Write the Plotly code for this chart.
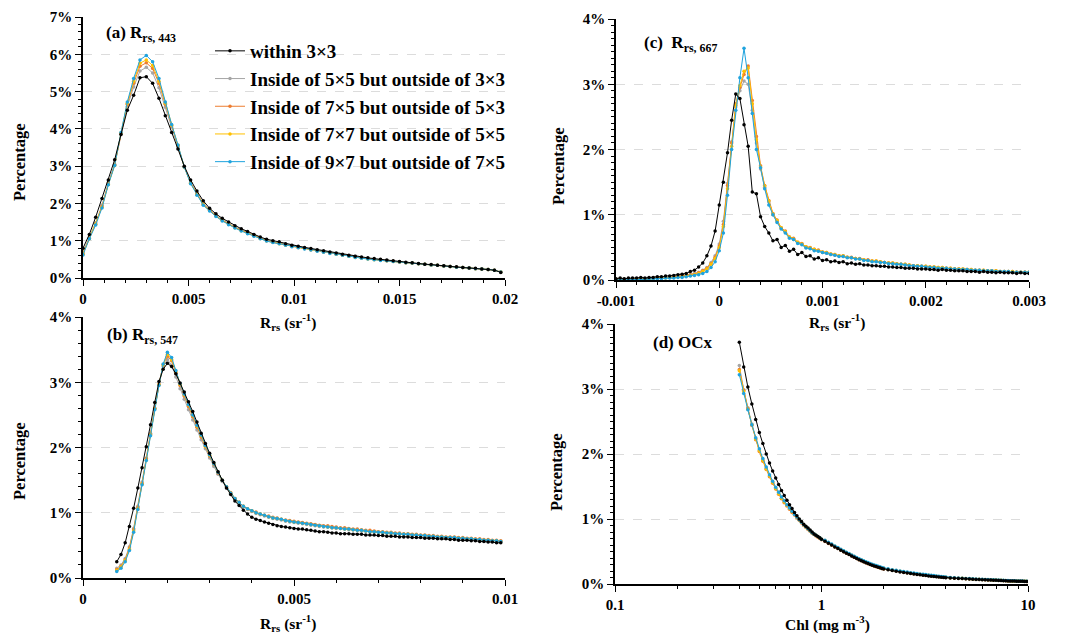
import plotly.graph_objects as go

W, H = 1091, 636
FONT = "Liberation Serif"

SERIES_NAMES = ["within 3×3",
                "Inside of 5×5 but outside of 3×3",
                "Inside of 7×5 but outside of 5×3",
                "Inside of 7×7 but outside of 5×5",
                "Inside of 9×7 but outside of 7×5"]
COLORS = ["#000000", "#A5A5A5", "#ED7D31", "#FFC000", "#1FA3DE"]

# ---------------- (a) Rrs 443 : bins 0 .. 0.0198 step 0.0003 ----------------
X_A = [round(0.0003 * i, 4) for i in range(67)]
A_BLACK = [0.80, 1.17, 1.63, 2.13, 2.63, 3.17, 3.85, 4.50, 4.90, 5.37,
           5.40, 5.22, 4.82, 4.35, 3.90, 3.46, 3.00, 2.63, 2.33, 2.07,
           1.87, 1.72, 1.60, 1.50, 1.40, 1.32, 1.25, 1.17, 1.10, 1.04,
           1.00, 0.97, 0.92, 0.88, 0.85, 0.82, 0.79, 0.76, 0.73, 0.70,
           0.67, 0.64, 0.61, 0.58, 0.56, 0.54, 0.52, 0.50, 0.48, 0.46,
           0.44, 0.42, 0.41, 0.39, 0.37, 0.36, 0.34, 0.33, 0.31, 0.30,
           0.28, 0.27, 0.26, 0.24, 0.23, 0.21, 0.15]
A_GRAY = [0.70, 1.08, 1.48, 1.95, 2.55, 3.05, 3.86, 4.60, 5.12, 5.55,
          5.65, 5.50, 5.10, 4.58, 4.05, 3.52, 2.99, 2.56, 2.27, 2.00,
          1.83, 1.68, 1.56, 1.46, 1.37, 1.29, 1.22, 1.14, 1.07, 1.01,
          0.97, 0.94, 0.90, 0.86, 0.83, 0.80, 0.77, 0.74, 0.71, 0.68,
          0.65, 0.62, 0.59, 0.56, 0.54, 0.52, 0.50, 0.48, 0.47, 0.45,
          0.43, 0.41, 0.40, 0.38, 0.37, 0.35, 0.34, 0.32, 0.31, 0.29,
          0.28, 0.27, 0.25, 0.24, 0.23, 0.21, 0.16]
A_ORANGE = [0.66, 1.06, 1.45, 1.92, 2.52, 3.03, 3.88, 4.66, 5.22, 5.68,
            5.77, 5.62, 5.22, 4.66, 4.08, 3.55, 2.98, 2.55, 2.25, 1.98,
            1.82, 1.67, 1.55, 1.45, 1.36, 1.28, 1.21, 1.13, 1.06, 1.00,
            0.96, 0.93, 0.89, 0.85, 0.82, 0.79, 0.76, 0.73, 0.70, 0.67,
            0.64, 0.61, 0.58, 0.56, 0.54, 0.52, 0.50, 0.48, 0.46, 0.45,
            0.43, 0.41, 0.40, 0.38, 0.37, 0.35, 0.34, 0.32, 0.31, 0.29,
            0.28, 0.27, 0.25, 0.24, 0.23, 0.21, 0.16]
A_YELLOW = [0.64, 1.05, 1.44, 1.90, 2.51, 3.02, 3.89, 4.69, 5.28, 5.76,
            5.85, 5.70, 5.28, 4.69, 4.10, 3.56, 2.98, 2.54, 2.24, 1.97,
            1.81, 1.66, 1.54, 1.44, 1.35, 1.27, 1.20, 1.13, 1.06, 1.00,
            0.96, 0.92, 0.88, 0.85, 0.82, 0.79, 0.76, 0.73, 0.70, 0.67,
            0.64, 0.61, 0.58, 0.55, 0.53, 0.51, 0.49, 0.48, 0.46, 0.44,
            0.43, 0.41, 0.40, 0.38, 0.37, 0.35, 0.34, 0.32, 0.31, 0.29,
            0.28, 0.27, 0.25, 0.24, 0.23, 0.21, 0.16]
A_BLUE = [0.62, 1.05, 1.42, 1.88, 2.50, 3.02, 3.90, 4.72, 5.35, 5.85,
          5.97, 5.80, 5.35, 4.72, 4.12, 3.57, 2.98, 2.53, 2.22, 1.95,
          1.80, 1.65, 1.53, 1.43, 1.34, 1.26, 1.19, 1.12, 1.05, 0.99,
          0.95, 0.92, 0.88, 0.84, 0.81, 0.78, 0.75, 0.72, 0.69, 0.66,
          0.64, 0.61, 0.58, 0.55, 0.53, 0.51, 0.49, 0.47, 0.46, 0.44,
          0.43, 0.41, 0.40, 0.38, 0.37, 0.35, 0.34, 0.32, 0.31, 0.29,
          0.28, 0.27, 0.25, 0.24, 0.23, 0.21, 0.16]

# ---------------- (b) Rrs 547 : bins 0.0008 .. 0.0099 step 0.0001 ----------------
X_B = [round(0.0008 + 0.0001 * i, 4) for i in range(92)]
B_BLACK = [0.25, 0.36, 0.54, 0.79, 1.07, 1.38, 1.69, 2.01, 2.35, 2.69,
           3.01, 3.20, 3.29, 3.24, 3.13, 2.99, 2.85, 2.70, 2.55, 2.39,
           2.22, 2.06, 1.91, 1.77, 1.63, 1.50, 1.38, 1.28, 1.18, 1.11,
           1.04, 0.98, 0.93, 0.90, 0.88, 0.86, 0.84, 0.82, 0.80, 0.79,
           0.78, 0.77, 0.76, 0.75, 0.75, 0.74, 0.73, 0.72, 0.71, 0.71,
           0.70, 0.69, 0.69, 0.68, 0.68, 0.68, 0.67, 0.67, 0.67, 0.66,
           0.66, 0.66, 0.65, 0.65, 0.64, 0.64, 0.64, 0.63, 0.63, 0.63,
           0.62, 0.62, 0.62, 0.61, 0.61, 0.61, 0.60, 0.60, 0.60, 0.59,
           0.59, 0.58, 0.58, 0.58, 0.57, 0.57, 0.56, 0.56, 0.55, 0.55,
           0.54, 0.54]
B_GRAY = [0.15, 0.20, 0.30, 0.48, 0.76, 1.10, 1.47, 1.84, 2.22, 2.60,
          2.96, 3.24, 3.35, 3.26, 3.08, 2.90, 2.74, 2.58, 2.42, 2.27,
          2.12, 1.98, 1.84, 1.71, 1.59, 1.48, 1.38, 1.29, 1.21, 1.15,
          1.09, 1.05, 1.02, 0.99, 0.97, 0.95, 0.93, 0.91, 0.90, 0.89,
          0.87, 0.86, 0.85, 0.84, 0.83, 0.82, 0.81, 0.80, 0.79, 0.78,
          0.78, 0.77, 0.76, 0.76, 0.75, 0.74, 0.74, 0.73, 0.72, 0.72,
          0.71, 0.71, 0.70, 0.69, 0.69, 0.68, 0.68, 0.67, 0.67, 0.66,
          0.66, 0.65, 0.65, 0.64, 0.64, 0.63, 0.63, 0.62, 0.62, 0.62,
          0.61, 0.61, 0.60, 0.60, 0.59, 0.59, 0.58, 0.58, 0.57, 0.57,
          0.57, 0.56]
B_ORANGE = [0.13, 0.18, 0.28, 0.46, 0.74, 1.08, 1.45, 1.83, 2.20, 2.60,
            2.97, 3.27, 3.40, 3.33, 3.14, 2.95, 2.79, 2.63, 2.47, 2.31,
            2.16, 2.01, 1.87, 1.74, 1.61, 1.50, 1.40, 1.31, 1.22, 1.16,
            1.10, 1.06, 1.03, 1.01, 0.98, 0.96, 0.95, 0.93, 0.92, 0.90,
            0.89, 0.88, 0.87, 0.86, 0.85, 0.84, 0.83, 0.82, 0.81, 0.80,
            0.80, 0.79, 0.78, 0.77, 0.77, 0.76, 0.75, 0.75, 0.74, 0.73,
            0.73, 0.72, 0.71, 0.71, 0.70, 0.70, 0.69, 0.69, 0.68, 0.68,
            0.67, 0.67, 0.66, 0.66, 0.65, 0.65, 0.64, 0.64, 0.63, 0.63,
            0.63, 0.62, 0.62, 0.61, 0.61, 0.60, 0.60, 0.59, 0.59, 0.58,
            0.58, 0.57]
B_YELLOW = [0.12, 0.17, 0.27, 0.44, 0.72, 1.06, 1.44, 1.81, 2.19, 2.59,
            2.96, 3.27, 3.43, 3.35, 3.16, 2.97, 2.81, 2.65, 2.49, 2.33,
            2.18, 2.02, 1.88, 1.75, 1.62, 1.50, 1.40, 1.30, 1.22, 1.16,
            1.10, 1.06, 1.03, 1.00, 0.98, 0.96, 0.94, 0.92, 0.91, 0.90,
            0.88, 0.87, 0.86, 0.85, 0.84, 0.83, 0.82, 0.81, 0.80, 0.79,
            0.78, 0.77, 0.77, 0.76, 0.75, 0.75, 0.74, 0.73, 0.73, 0.72,
            0.71, 0.71, 0.70, 0.70, 0.69, 0.69, 0.68, 0.68, 0.67, 0.67,
            0.66, 0.66, 0.65, 0.65, 0.64, 0.64, 0.63, 0.63, 0.62, 0.62,
            0.62, 0.61, 0.61, 0.60, 0.60, 0.59, 0.59, 0.58, 0.58, 0.57,
            0.57, 0.56]
B_BLUE = [0.10, 0.15, 0.25, 0.42, 0.70, 1.05, 1.43, 1.80, 2.18, 2.58,
          2.95, 3.28, 3.46, 3.38, 3.18, 2.98, 2.82, 2.66, 2.50, 2.34,
          2.19, 2.03, 1.89, 1.75, 1.62, 1.50, 1.40, 1.30, 1.22, 1.16,
          1.10, 1.06, 1.03, 1.00, 0.98, 0.96, 0.94, 0.92, 0.91, 0.90,
          0.88, 0.87, 0.86, 0.85, 0.84, 0.83, 0.82, 0.81, 0.80, 0.79,
          0.78, 0.77, 0.77, 0.76, 0.75, 0.75, 0.74, 0.73, 0.73, 0.72,
          0.71, 0.71, 0.70, 0.70, 0.69, 0.69, 0.68, 0.68, 0.67, 0.67,
          0.66, 0.66, 0.65, 0.65, 0.64, 0.64, 0.63, 0.63, 0.62, 0.62,
          0.62, 0.61, 0.61, 0.60, 0.60, 0.59, 0.59, 0.58, 0.58, 0.57,
          0.57, 0.56]

# ---------------- (c) Rrs 667 : bins -0.001 .. 0.003 step 0.00004 ----------------
X_C = [round(-0.001 + 0.00004 * i, 5) for i in range(101)]
C_BLACK = [0.02, 0.03, 0.02, 0.03, 0.03, 0.03, 0.04, 0.03, 0.04, 0.04,
           0.05, 0.05, 0.06, 0.06, 0.07, 0.08, 0.09, 0.10, 0.13, 0.15,
           0.20, 0.26, 0.37, 0.52, 0.75,
           1.15, 1.50, 1.95, 2.45, 2.85, 2.78, 2.38, 2.05, 1.35, 1.32,
           0.97, 0.82, 0.72, 0.60, 0.62, 0.50, 0.53, 0.44, 0.47, 0.39,
           0.42, 0.36, 0.37, 0.32, 0.34, 0.30,
           0.31, 0.28, 0.29, 0.27, 0.28, 0.25, 0.26, 0.24, 0.25, 0.23,
           0.23, 0.22, 0.22, 0.21, 0.21, 0.20, 0.20, 0.19, 0.19, 0.18,
           0.18, 0.18, 0.17, 0.17, 0.17, 0.16, 0.16, 0.15, 0.16, 0.15,
           0.15, 0.14, 0.14, 0.14, 0.13, 0.13, 0.13, 0.12, 0.13, 0.12,
           0.12, 0.11, 0.12, 0.11, 0.11, 0.11, 0.10, 0.11, 0.10, 0.10]
C_GRAY = [0.01, 0.01, 0.01, 0.01, 0.01, 0.02, 0.02, 0.02, 0.02, 0.03,
          0.03, 0.03, 0.04, 0.04, 0.05, 0.05, 0.06, 0.07, 0.08, 0.10,
          0.12, 0.15, 0.19, 0.27, 0.37,
          0.55, 0.90, 1.48, 2.12, 2.65, 2.90, 3.05, 3.00, 2.60, 2.10,
          1.70, 1.42, 1.20, 1.00, 0.90, 0.79, 0.73, 0.65, 0.62, 0.57,
          0.55, 0.50, 0.49, 0.46, 0.45, 0.42,
          0.41, 0.39, 0.38, 0.37, 0.36, 0.35, 0.34, 0.33, 0.32, 0.31,
          0.30, 0.29, 0.28, 0.27, 0.27, 0.26, 0.25, 0.24, 0.24, 0.23,
          0.22, 0.22, 0.21, 0.21, 0.20, 0.20, 0.19, 0.19, 0.18, 0.18,
          0.17, 0.17, 0.17, 0.16, 0.16, 0.15, 0.15, 0.15, 0.14, 0.14,
          0.14, 0.13, 0.13, 0.13, 0.13, 0.12, 0.12, 0.12, 0.12, 0.11]
C_ORANGE = [0.01, 0.01, 0.01, 0.01, 0.01, 0.02, 0.02, 0.02, 0.02, 0.03,
            0.03, 0.03, 0.04, 0.04, 0.05, 0.05, 0.06, 0.07, 0.08, 0.09,
            0.11, 0.14, 0.18, 0.25, 0.35,
            0.52, 0.85, 1.45, 2.10, 2.70, 2.95, 3.15, 3.28, 2.75, 2.20,
            1.75, 1.45, 1.22, 1.02, 0.92, 0.80, 0.75, 0.66, 0.64, 0.58,
            0.56, 0.51, 0.50, 0.47, 0.46, 0.43,
            0.42, 0.40, 0.39, 0.37, 0.37, 0.35, 0.35, 0.33, 0.33, 0.31,
            0.31, 0.29, 0.29, 0.28, 0.27, 0.26, 0.26, 0.25, 0.24, 0.24,
            0.23, 0.22, 0.22, 0.21, 0.21, 0.20, 0.20, 0.19, 0.19, 0.18,
            0.18, 0.17, 0.17, 0.17, 0.16, 0.16, 0.15, 0.15, 0.15, 0.14,
            0.14, 0.14, 0.13, 0.13, 0.13, 0.13, 0.12, 0.12, 0.12, 0.12]
C_YELLOW = [0.01, 0.01, 0.01, 0.01, 0.01, 0.01, 0.02, 0.02, 0.02, 0.02,
            0.03, 0.03, 0.03, 0.04, 0.04, 0.05, 0.05, 0.06, 0.07, 0.08,
            0.10, 0.13, 0.17, 0.24, 0.33,
            0.50, 0.82, 1.40, 2.05, 2.68, 2.98, 3.20, 3.25, 2.70, 2.15,
            1.73, 1.44, 1.21, 1.01, 0.91, 0.80, 0.74, 0.66, 0.63, 0.58,
            0.55, 0.51, 0.49, 0.47, 0.45, 0.43,
            0.42, 0.40, 0.39, 0.37, 0.37, 0.35, 0.34, 0.33, 0.32, 0.31,
            0.30, 0.29, 0.29, 0.28, 0.27, 0.26, 0.26, 0.25, 0.24, 0.24,
            0.23, 0.22, 0.22, 0.21, 0.21, 0.20, 0.20, 0.19, 0.19, 0.18,
            0.18, 0.17, 0.17, 0.17, 0.16, 0.16, 0.15, 0.15, 0.15, 0.14,
            0.14, 0.14, 0.13, 0.13, 0.13, 0.13, 0.12, 0.12, 0.12, 0.12]
C_BLUE = [0.00, 0.00, 0.01, 0.01, 0.01, 0.01, 0.01, 0.01, 0.02, 0.02,
          0.02, 0.02, 0.03, 0.03, 0.03, 0.04, 0.04, 0.05, 0.06, 0.07,
          0.08, 0.10, 0.13, 0.19, 0.28,
          0.45, 0.72, 1.30, 2.00, 2.60, 3.10, 3.55, 3.10, 2.55, 2.00,
          1.72, 1.40, 1.15, 1.00, 0.88, 0.78, 0.72, 0.64, 0.62, 0.56,
          0.54, 0.49, 0.48, 0.45, 0.44, 0.42,
          0.41, 0.39, 0.38, 0.36, 0.36, 0.34, 0.34, 0.32, 0.32, 0.30,
          0.30, 0.28, 0.28, 0.27, 0.27, 0.25, 0.25, 0.24, 0.24, 0.23,
          0.22, 0.22, 0.21, 0.21, 0.20, 0.19, 0.19, 0.18, 0.18, 0.18,
          0.17, 0.17, 0.16, 0.16, 0.16, 0.15, 0.15, 0.15, 0.14, 0.14,
          0.14, 0.13, 0.13, 0.13, 0.13, 0.12, 0.12, 0.12, 0.12, 0.12]

# ---------------- (d) OCx chlorophyll (mg m-3) ----------------
X_D = [0.40, 0.42, 0.44, 0.46, 0.48, 0.50, 0.52, 0.54, 0.56, 0.58,
       0.60, 0.62, 0.64, 0.66, 0.68, 0.70, 0.72, 0.74, 0.76, 0.78,
       0.80, 0.82, 0.84, 0.86, 0.88, 0.90, 0.92, 0.94, 0.96, 0.98, 1.00,
       1.04, 1.08, 1.12, 1.16, 1.20, 1.24, 1.28, 1.32, 1.36, 1.40,
       1.44, 1.48, 1.52, 1.56, 1.60, 1.64, 1.68, 1.72, 1.76, 1.80,
       1.84, 1.88, 1.92, 1.96, 2.00,
       2.1, 2.2, 2.3, 2.4, 2.5, 2.6, 2.7, 2.8, 2.9, 3.0,
       3.1, 3.2, 3.3, 3.4, 3.5, 3.6, 3.7, 3.8, 3.9, 4.0,
       4.2, 4.4, 4.6, 4.8, 5.0, 5.2, 5.4, 5.6, 5.8, 6.0,
       6.2, 6.4, 6.6, 6.8, 7.0, 7.2, 7.4, 7.6, 7.8, 8.0,
       8.2, 8.4, 8.6, 8.8, 9.0, 9.2, 9.4, 9.6, 9.8, 10.0]
D_BLACK = [3.72, 3.34, 3.03, 2.77, 2.53, 2.33, 2.16, 2.00, 1.86, 1.74,
           1.63, 1.53, 1.44, 1.36, 1.29, 1.22, 1.16, 1.10, 1.05, 1.00,
           0.96, 0.92, 0.89, 0.86, 0.83, 0.80, 0.77, 0.75, 0.73, 0.71, 0.69,
           0.658, 0.628, 0.599, 0.571, 0.547, 0.521, 0.496, 0.474, 0.454, 0.431,
           0.412, 0.393, 0.375, 0.359, 0.342, 0.328, 0.314, 0.301, 0.288, 0.278,
           0.268, 0.258, 0.249, 0.240, 0.232,
           0.218, 0.206, 0.196, 0.186, 0.177, 0.168, 0.160, 0.153, 0.147, 0.141,
           0.135, 0.13, 0.125, 0.12, 0.115, 0.11, 0.107, 0.104, 0.10, 0.098,
           0.094, 0.090, 0.086, 0.083, 0.080, 0.077, 0.074, 0.071, 0.068, 0.066,
           0.064, 0.062, 0.060, 0.058, 0.056, 0.054, 0.053, 0.051, 0.050, 0.048,
           0.047, 0.046, 0.045, 0.044, 0.043, 0.042, 0.041, 0.040, 0.039, 0.038]
D_GRAY = [3.36, 2.99, 2.71, 2.46, 2.24, 2.06, 1.91, 1.78, 1.66, 1.56,
          1.47, 1.39, 1.32, 1.26, 1.21, 1.16, 1.11, 1.07, 1.03, 0.99,
          0.95, 0.91, 0.88, 0.85, 0.82, 0.79, 0.77, 0.75, 0.73, 0.71, 0.69,
          0.663, 0.633, 0.604, 0.576, 0.552, 0.526, 0.501, 0.479, 0.459, 0.436,
          0.417, 0.398, 0.380, 0.364, 0.347, 0.333, 0.319, 0.306, 0.293, 0.283,
          0.273, 0.263, 0.254, 0.245, 0.237,
          0.223, 0.211, 0.201, 0.191, 0.182, 0.173, 0.165, 0.158, 0.152, 0.146,
          0.14, 0.135, 0.13, 0.125, 0.12, 0.115, 0.11, 0.107, 0.104, 0.10,
          0.096, 0.092, 0.088, 0.085, 0.082, 0.079, 0.076, 0.073, 0.070, 0.068,
          0.066, 0.064, 0.062, 0.060, 0.058, 0.056, 0.054, 0.052, 0.051, 0.049,
          0.048, 0.047, 0.046, 0.045, 0.044, 0.043, 0.042, 0.041, 0.040, 0.039]
D_ORANGE = [3.30, 2.98, 2.70, 2.44, 2.22, 2.04, 1.89, 1.76, 1.65, 1.55,
            1.46, 1.38, 1.31, 1.25, 1.20, 1.15, 1.10, 1.06, 1.02, 0.98,
            0.94, 0.90, 0.87, 0.84, 0.81, 0.78, 0.76, 0.74, 0.72, 0.70, 0.68,
            0.655, 0.625, 0.597, 0.569, 0.545, 0.520, 0.495, 0.473, 0.453, 0.430,
            0.411, 0.392, 0.374, 0.358, 0.341, 0.327, 0.313, 0.300, 0.287, 0.277,
            0.267, 0.257, 0.248, 0.239, 0.231,
            0.223, 0.211, 0.201, 0.191, 0.182, 0.173, 0.165, 0.158, 0.152, 0.146,
            0.14, 0.135, 0.13, 0.125, 0.12, 0.115, 0.11, 0.107, 0.104, 0.10,
            0.096, 0.092, 0.088, 0.085, 0.082, 0.079, 0.076, 0.073, 0.070, 0.068,
            0.066, 0.064, 0.062, 0.060, 0.058, 0.056, 0.054, 0.052, 0.051, 0.049,
            0.048, 0.047, 0.046, 0.045, 0.044, 0.043, 0.042, 0.041, 0.040, 0.039]
D_YELLOW = [3.28, 2.96, 2.69, 2.45, 2.23, 2.05, 1.90, 1.77, 1.66, 1.56,
            1.47, 1.39, 1.32, 1.26, 1.21, 1.16, 1.11, 1.07, 1.03, 0.99,
            0.95, 0.91, 0.88, 0.85, 0.82, 0.79, 0.77, 0.75, 0.73, 0.71, 0.69,
            0.668, 0.638, 0.609, 0.581, 0.557, 0.531, 0.506, 0.484, 0.464, 0.441,
            0.422, 0.403, 0.385, 0.369, 0.352, 0.338, 0.324, 0.311, 0.298, 0.288,
            0.278, 0.268, 0.259, 0.250, 0.242,
            0.228, 0.216, 0.206, 0.196, 0.187, 0.178, 0.170, 0.163, 0.157, 0.15,
            0.145, 0.14, 0.135, 0.13, 0.125, 0.12, 0.115, 0.11, 0.106, 0.103,
            0.098, 0.094, 0.090, 0.087, 0.084, 0.081, 0.078, 0.075, 0.072, 0.070,
            0.068, 0.066, 0.064, 0.062, 0.060, 0.058, 0.056, 0.054, 0.052, 0.050,
            0.049, 0.048, 0.047, 0.046, 0.045, 0.044, 0.043, 0.042, 0.041, 0.040]
D_BLUE = [3.22, 2.93, 2.68, 2.45, 2.25, 2.08, 1.93, 1.80, 1.68, 1.58,
          1.49, 1.41, 1.34, 1.28, 1.22, 1.17, 1.12, 1.07, 1.03, 0.99,
          0.95, 0.91, 0.88, 0.85, 0.82, 0.79, 0.77, 0.75, 0.73, 0.71, 0.69,
          0.673, 0.643, 0.614, 0.586, 0.562, 0.536, 0.511, 0.489, 0.469, 0.446,
          0.427, 0.408, 0.390, 0.374, 0.357, 0.343, 0.329, 0.316, 0.303, 0.293,
          0.283, 0.273, 0.264, 0.255, 0.247,
          0.233, 0.221, 0.211, 0.201, 0.192, 0.183, 0.175, 0.168, 0.161, 0.155,
          0.15, 0.145, 0.14, 0.135, 0.13, 0.125, 0.12, 0.115, 0.11, 0.106,
          0.10, 0.096, 0.092, 0.089, 0.086, 0.083, 0.080, 0.077, 0.074, 0.072,
          0.070, 0.068, 0.066, 0.064, 0.062, 0.060, 0.058, 0.056, 0.054, 0.052,
          0.051, 0.050, 0.049, 0.048, 0.047, 0.046, 0.045, 0.044, 0.043, 0.042]

PANELS = [
    ("x", "y", X_A, [A_BLACK, A_GRAY, A_ORANGE, A_YELLOW, A_BLUE]),
    ("x2", "y2", X_B, [B_BLACK, B_GRAY, B_ORANGE, B_YELLOW, B_BLUE]),
    ("x3", "y3", X_C, [C_BLACK, C_GRAY, C_ORANGE, C_YELLOW, C_BLUE]),
    ("x4", "y4", X_D, [D_BLACK, D_GRAY, D_ORANGE, D_YELLOW, D_BLUE]),
]

fig = go.Figure()
for pi, (xa, ya, xs, ser) in enumerate(PANELS):
    for s in ser:
        assert len(s) == len(xs), (pi, len(s), len(xs))
    order = [1, 2, 3, 4, 0]  # draw black last (on top)
    for si in order:
        fig.add_trace(go.Scatter(
            x=xs, y=ser[si], xaxis=xa, yaxis=ya,
            mode="lines+markers", name=SERIES_NAMES[si],
            line=dict(color=COLORS[si], width=1),
            marker=dict(color=COLORS[si], size=3.5),
            showlegend=(pi == 0), legendrank=si + 1,
        ))


def px_x(p):
    return p / W


def px_y(p):
    return 1 - p / H


TICKFONT = dict(family=FONT, size=15, color="black", weight="bold")
common_axis = dict(showline=True, linecolor="black", linewidth=1.5, mirror=False,
                   ticks="outside", ticklen=6, tickwidth=1.3, tickcolor="black",
                   tickfont=TICKFONT, zeroline=False, automargin=False)


def xaxis(domain, anchor, rng, tickvals, ticktext, minor_dtick, log=False):
    d = dict(common_axis, domain=domain, anchor=anchor, range=rng,
             tickvals=tickvals, ticktext=ticktext, showgrid=False)
    if log:
        d["type"] = "log"
        d["minor"] = dict(ticks="outside", ticklen=3, tickwidth=1, tickcolor="black",
                          tickvals=[0.2, 0.3, 0.4, 0.5, 0.6, 0.7, 0.8, 0.9,
                                    2, 3, 4, 5, 6, 7, 8, 9], showgrid=False)
    else:
        d["minor"] = dict(ticks="outside", ticklen=3, tickwidth=1, tickcolor="black",
                          dtick=minor_dtick, showgrid=False)
    return d


def yaxis(domain, anchor, ymax, minor_dtick):
    return dict(common_axis, domain=domain, anchor=anchor, range=[0, ymax],
                dtick=1, tick0=0, ticksuffix="%",
                showgrid=True, gridcolor="#dcdcdc", griddash="dash", gridwidth=1,
                minor=dict(ticks="outside", ticklen=3, tickwidth=1, tickcolor="black",
                           dtick=minor_dtick, showgrid=False))


def inner_x(base, anchor, rng, tickvals, log=False):
    # companion axis that draws the inner half of the crossing major ticks
    d = dict(overlaying=base, anchor=anchor, range=rng, tickvals=tickvals,
             ticks="inside", ticklen=5, tickwidth=1.3, tickcolor="black",
             showticklabels=False, showline=False, showgrid=False, zeroline=False,
             automargin=False)
    if log:
        d["type"] = "log"
    return d


def inner_y(base, anchor, ymax):
    return dict(overlaying=base, anchor=anchor, range=[0, ymax], dtick=1, tick0=0,
                ticks="inside", ticklen=5, tickwidth=1.3, tickcolor="black",
                showticklabels=False, showline=False, showgrid=False, zeroline=False,
                automargin=False)


# plot areas (pixels)
A_DOM = ([px_x(83), px_x(505)], [px_y(278), px_y(17)])
B_DOM = ([px_x(83), px_x(505)], [px_y(578), px_y(317)])
C_DOM = ([px_x(616), px_x(1029)], [px_y(280), px_y(19)])
D_DOM = ([px_x(615), px_x(1028)], [px_y(584), px_y(324)])

fig.update_layout(
    width=W, height=H, autosize=False,
    margin=dict(l=0, r=0, t=0, b=0, pad=0, autoexpand=False),
    paper_bgcolor="white", plot_bgcolor="white",
    font=dict(family=FONT, color="black"),
    xaxis=xaxis(A_DOM[0], "y", [0, 0.02], [0, 0.005, 0.01, 0.015, 0.02],
                ["0", "0.005", "0.01", "0.015", "0.02"], 0.001),
    yaxis=yaxis(A_DOM[1], "x", 7, 0.2),
    xaxis2=xaxis(B_DOM[0], "y2", [0, 0.01], [0, 0.005, 0.01],
                 ["0", "0.005", "0.01"], 0.001),
    yaxis2=yaxis(B_DOM[1], "x2", 4, 0.2),
    xaxis3=xaxis(C_DOM[0], "y3", [-0.001, 0.003], [-0.001, 0, 0.001, 0.002, 0.003],
                 ["-0.001", "0", "0.001", "0.002", "0.003"], 0.0002),
    yaxis3=yaxis(C_DOM[1], "x3", 4, 0.1),
    xaxis4=xaxis(D_DOM[0], "y4", [-1, 1], [0.1, 1, 10], ["0.1", "1", "10"], None, log=True),
    yaxis4=yaxis(D_DOM[1], "x4", 4, 0.1),
    xaxis5=inner_x("x", "y", [0, 0.02], [0.005, 0.01, 0.015, 0.02]),
    xaxis6=inner_x("x2", "y2", [0, 0.01], [0.005, 0.01]),
    xaxis7=inner_x("x3", "y3", [-0.001, 0.003], [0, 0.001, 0.002, 0.003]),
    xaxis8=inner_x("x4", "y4", [-1, 1], [1, 10], log=True),
    yaxis5=inner_y("y", "x", 7),
    yaxis6=inner_y("y2", "x2", 4),
    yaxis7=inner_y("y3", "x3", 4),
    yaxis8=inner_y("y4", "x4", 4),
    legend=dict(x=px_x(210), y=px_y(32), xanchor="left", yanchor="top",
                bgcolor="rgba(0,0,0,0)", borderwidth=0, traceorder="normal",
                font=dict(family=FONT, size=19, color="black", weight="bold"),
                itemwidth=30, tracegroupgap=0),
)

ann = []


def text(x, y, s, size, xanchor="center", angle=0):
    ann.append(dict(x=px_x(x), y=px_y(y), xref="paper", yref="paper", text=s,
                    showarrow=False, xanchor=xanchor, yanchor="middle", textangle=angle,
                    font=dict(family=FONT, size=size, color="black", weight="bold")))


RRS = "R<sub>rs</sub> (sr<sup>-1</sup>)"
text(19, 162, "Percentage", 16.5, angle=-90)
text(19, 461, "Percentage", 16.5, angle=-90)
text(558, 166, "Percentage", 16.5, angle=-90)
text(557, 472, "Percentage", 16.5, angle=-90)
text(288, 322, RRS, 15.5)
text(837, 322, RRS, 15.5)
text(288, 623, RRS, 15.5)
text(827, 623, "Chl (mg m<sup>-3</sup>)", 15.5)
text(104, 34, "(a) R<sub>rs, 443</sub>", 17, xanchor="left")
text(105, 336, "(b) R<sub>rs, 547</sub>", 17, xanchor="left")
text(642, 44, "(c)  R<sub>rs, 667</sub>", 17, xanchor="left")
text(651, 342, "(d) OCx", 17, xanchor="left")
fig.update_layout(annotations=ann)

fig.write_html("out.html")
